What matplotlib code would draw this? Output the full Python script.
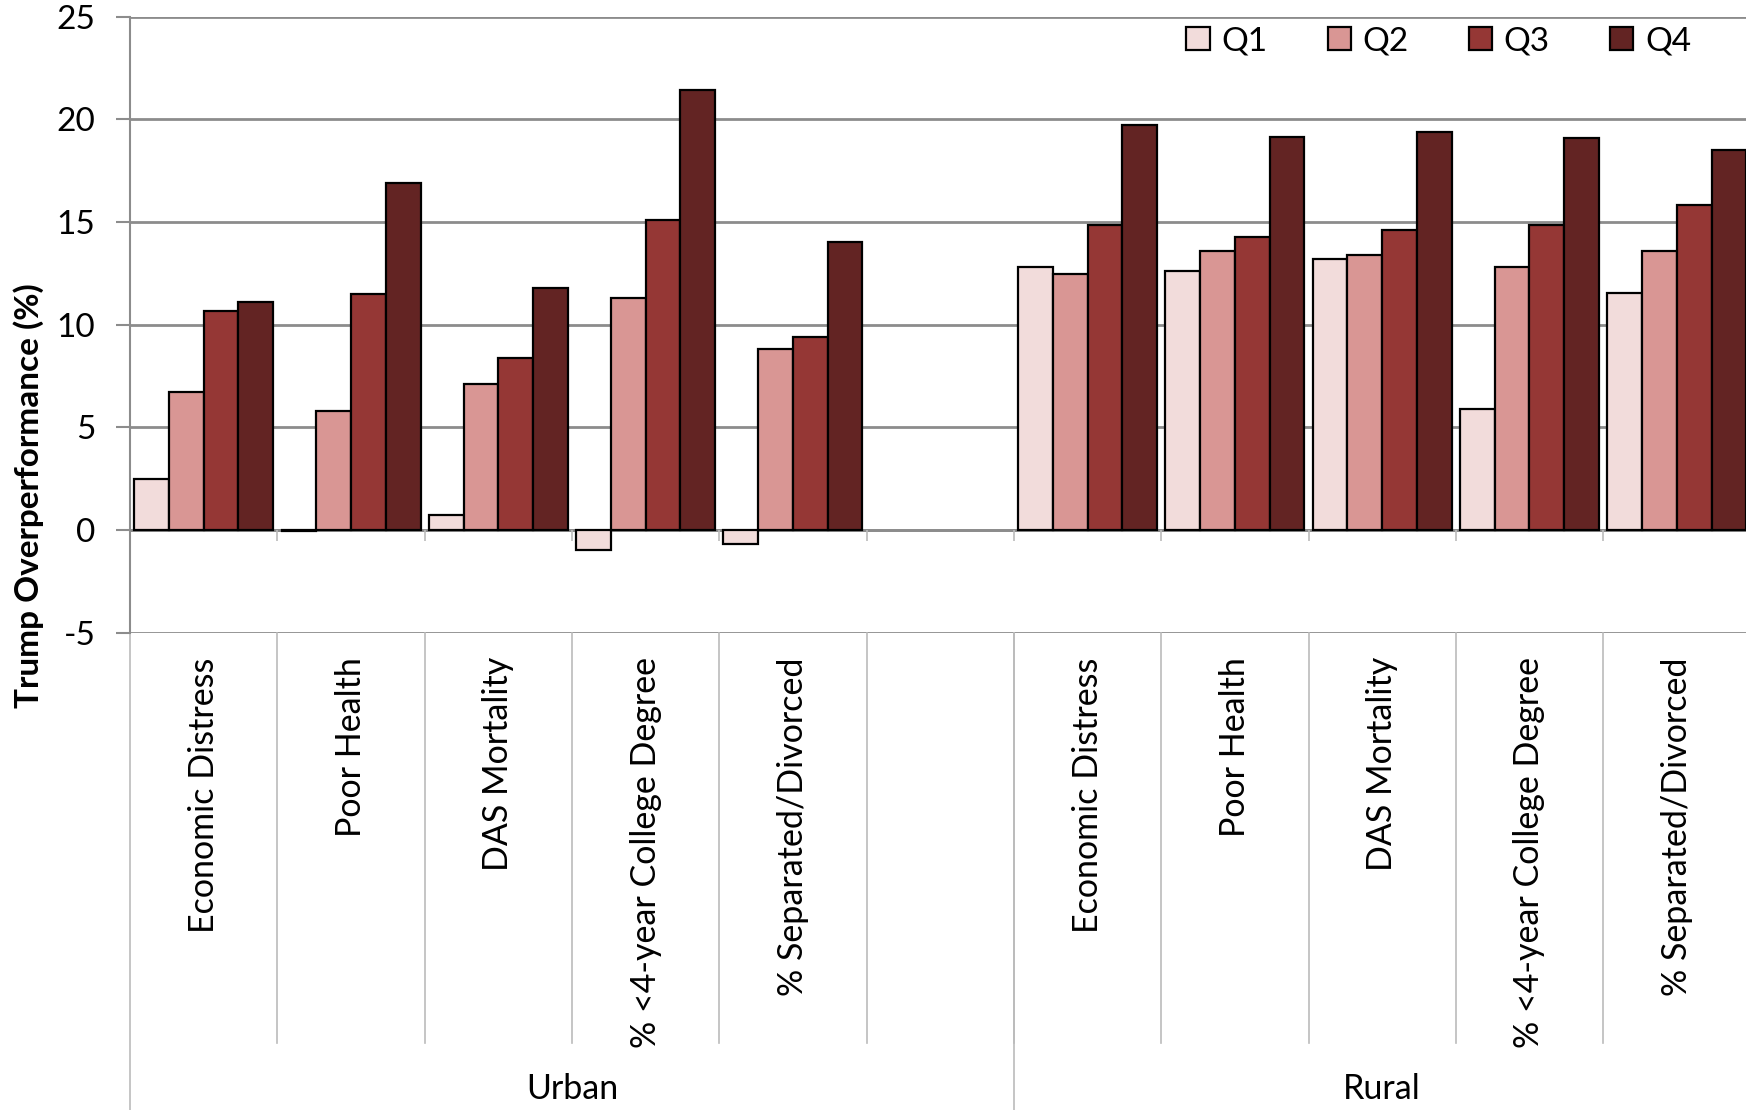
import matplotlib
matplotlib.use("Agg")
import matplotlib.pyplot as plt
import matplotlib.transforms as mtransforms
import numpy as np

plt.rcParams['font.family'] = ['Lato', 'DejaVu Sans']

groups = ['Urban', 'Rural']
measures = ['Economic Distress', 'Poor Health', 'DAS Mortality',
            '% <4-year College Degree', '% Separated/Divorced']
quartiles = ['Q1', 'Q2', 'Q3', 'Q4']

# values per quartile, measures in order, for urban then rural
urban_q1 = [2.5, -0.05, 0.75, -0.95, -0.7]
urban_q2 = [6.7, 5.8, 7.1, 11.3, 8.8]
urban_q3 = [10.65, 11.5, 8.4, 15.1, 9.4]
urban_q4 = [11.1, 16.9, 11.8, 21.45, 14.05]
rural_q1 = [12.8, 12.6, 13.2, 5.9, 11.55]
rural_q2 = [12.45, 13.6, 13.4, 12.8, 13.6]
rural_q3 = [14.85, 14.25, 14.6, 14.85, 15.85]
rural_q4 = [19.7, 19.15, 19.4, 19.1, 18.5]

colors = ['#F2DCDB', '#D99694', '#953735', '#632423']
grid_gray = '#8C8C8C'

# slots: 5 urban, one empty, 5 rural
urban_x = np.arange(5)
rural_x = np.arange(6, 11)
series = [(urban_q1, rural_q1), (urban_q2, rural_q2),
          (urban_q3, rural_q3), (urban_q4, rural_q4)]

fig = plt.figure(figsize=(17.46, 11.10), dpi=100)
ax = fig.add_axes([0.0745, 0.430, 0.9255, 0.555])

width = 0.236
for k, (u, r) in enumerate(series):
    off = (k - 1.5) * width
    ax.bar(np.concatenate([urban_x, rural_x]) + off, u + r, width,
           color=colors[k], edgecolor='black', linewidth=1.6,
           label=quartiles[k], zorder=3)

ax.set_xlim(-0.5, 10.47)
ax.set_ylim(-5, 25)
ax.set_yticks(np.arange(-5, 26, 5))
ax.set_yticklabels([str(v) for v in range(-5, 26, 5)], fontsize=24)
ax.yaxis.grid(True, color=grid_gray, linewidth=2, zorder=0)
ax.tick_params(axis='y', length=10, width=1.5, color=grid_gray, pad=15)
ax.set_xticks([])
for s in ['top', 'right', 'bottom']:
    ax.spines[s].set_visible(False)
ax.spines['left'].set_color(grid_gray)
ax.spines['left'].set_linewidth(1.5)

# zero line with small ticks between categories
ax.axhline(0, color=grid_gray, linewidth=2, zorder=2)
bounds = np.arange(0.5, 10.5, 1.0)
ax.vlines(bounds, -0.55, 0, color='#BBBBBB', linewidth=1.2, zorder=2)

ax.set_ylabel('Trump Overperformance (%)', fontsize=24, fontweight='bold')
ax.yaxis.set_label_coords(-0.053, 0.222)

# category table under the plot
trans = mtransforms.blended_transform_factory(ax.transData, ax.transAxes)
y_lab_top = (632.5 - 657) / 616
y_div_end = (632.5 - 1043) / 616
y_grp = (632.5 - 1089) / 616
y_bottom = (632.5 - 1110) / 616
for b in bounds:
    ax.plot([b, b], [0, y_div_end], transform=trans, color='#BBBBBB',
            linewidth=1.2, clip_on=False)
for b in [-0.5, 5.5]:
    ax.plot([b, b], [0, y_bottom], transform=trans, color='#BBBBBB',
            linewidth=1.2, clip_on=False)

for xs in (urban_x, rural_x):
    for x, m in zip(xs, measures):
        ax.text(x, y_lab_top, m, transform=trans, rotation=90, ha='center',
                va='top', fontsize=24.5, clip_on=False)

ax.text(2.5, y_grp, groups[0], transform=trans, ha='center', va='center',
        fontsize=24.5)
ax.text(8.0, y_grp, groups[1], transform=trans, ha='center', va='center',
        fontsize=24.5)

ax.legend(loc='center', bbox_to_anchor=(0.824, 0.963),
          bbox_transform=fig.transFigure, ncol=4, frameon=False,
          fontsize=24, handlelength=0.7, handleheight=0.7,
          handletextpad=0.35, columnspacing=1.8)

fig.savefig('out.png', dpi=100)
